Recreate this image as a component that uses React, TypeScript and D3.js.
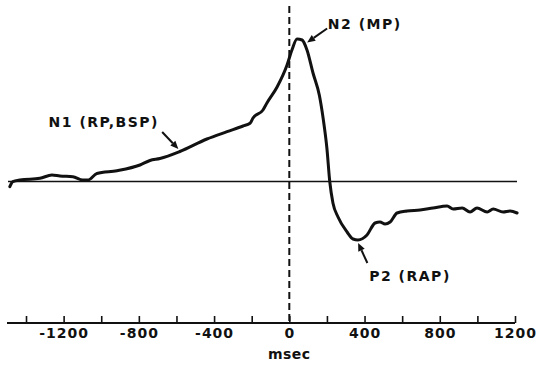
import { useEffect, useRef } from "react"
import * as d3 from "d3"

// averaged movement-related potential, time relative to movement onset
const timeMs = [
  -1486, -1470, -1432, -1326, -1262, -1220, -1151, -1098, -1071, -1023, -916, -794, -741, -688, -582,
  -438, -331, -246, -209, -193, -140, -119, -65, -12, 14, 41, 68, 94, 126, 160, 180, 200, 215,
  232, 259, 307, 339, 365, 413, 456, 482, 509, 536, 573, 626, 695, 764, 839, 871, 919, 961, 998,
  1052, 1084, 1137, 1174, 1211,
]
const amplitude = [
  -0.52, -0.02, 0.15, 0.32, 0.65, 0.55, 0.48, 0.15, 0.15, 0.8, 1.08, 1.65, 2.1, 2.3, 3.0,
  4.25, 4.98, 5.55, 5.82, 6.35, 7.15, 7.85, 9.45, 11.65, 13.15, 14.25, 14.15, 13.15, 10.85, 8.6, 6.3, 3.3, 0.0,
  -2.15, -3.55, -5.05, -5.75, -5.85, -5.35, -4.15, -4.05, -4.25, -4.05, -3.15, -2.95, -2.85, -2.65, -2.45, -2.75, -2.65, -3.05, -2.65,
  -3.05, -2.75, -3.05, -2.95, -3.15,
]

const tickValues = d3.range(-1400, 1201, 200)
const labelledTicks = [-1200, -800, -400, 0, 400, 800, 1200]

// component labels: text, text anchor point [ms, uV], arrow tail and head [ms, uV]
const componentLabels = ["N1 (RP,BSP)", "N2 (MP)", "P2 (RAP)"]
const labelAt: [number, number][] = [[-1280, 5.5], [205, 15.3], [425, -9.9]]
const arrowFrom: [number, number][] = [[-676, 4.95], [201, 15.3], [415, -8.15]]
const arrowTo: [number, number][] = [[-590, 3.25], [95, 13.9], [366, -6.15]]

const font = "'DejaVu Sans', sans-serif"

export default function App() {
  const svgRef = useRef<SVGSVGElement>(null)

  useEffect(() => {
    if (!svgRef.current) return
    const svg = d3.select(svgRef.current)
    svg.selectAll("*").remove()

    const x = d3.scaleLinear().domain([-1500, 1200]).range([7.2, 515])
    const y = d3.scaleLinear().domain([0, 10]).range([181.5, 81.5])
    const axisY = 323

    // baseline
    svg
      .append("line")
      .attr("x1", 8)
      .attr("x2", 517)
      .attr("y1", y(0))
      .attr("y2", y(0))
      .attr("stroke", "#111")
      .attr("stroke-width", 1.6)

    // movement onset
    svg
      .append("line")
      .attr("x1", x(0))
      .attr("x2", x(0))
      .attr("y1", 6)
      .attr("y2", axisY - 2)
      .attr("stroke", "#111")
      .attr("stroke-width", 2)
      .attr("stroke-dasharray", "7,4")

    // x axis, ticks pointing up
    const axis = svg
      .append("g")
      .attr("transform", `translate(0,${axisY})`)
      .call(
        d3
          .axisBottom(x)
          .tickValues(tickValues)
          .tickSizeInner(-7)
          .tickSizeOuter(0)
          .tickPadding(5)
          .tickFormat((d) => (labelledTicks.includes(d as number) ? String(d) : "")),
      )
    axis.select(".domain").remove()
    axis.append("line").attr("x1", 7).attr("x2", x(1200)).attr("stroke", "#111").attr("stroke-width", 1.8)
    axis.selectAll(".tick line").attr("stroke", "#111").attr("stroke-width", 1.6)
    axis
      .selectAll(".tick text")
      .attr("fill", "#111")
      .style("font-family", font)
      .style("font-weight", "bold")
      .style("font-size", "14px")
      .style("letter-spacing", "1px")

    svg
      .append("text")
      .attr("x", x(0))
      .attr("y", 359)
      .attr("text-anchor", "middle")
      .attr("fill", "#111")
      .style("font-family", font)
      .style("font-weight", "bold")
      .style("font-size", "14px")
      .style("letter-spacing", "0.5px")
      .text("msec")

    // potential trace
    const points = timeMs.map((t, i) => [t, amplitude[i]] as [number, number])
    const line = d3
      .line<[number, number]>()
      .x((d) => x(d[0]))
      .y((d) => y(d[1]))
      .curve(d3.curveMonotoneX)
    svg
      .append("path")
      .attr("d", line(points))
      .attr("fill", "none")
      .attr("stroke", "#111")
      .attr("stroke-width", 3)
      .attr("stroke-linejoin", "round")
      .attr("stroke-linecap", "round")

    // labels with arrows
    componentLabels.forEach((label, i) => {
      svg
        .append("text")
        .attr("x", x(labelAt[i][0]))
        .attr("y", y(labelAt[i][1]))
        .attr("fill", "#111")
        .style("font-family", font)
        .style("font-weight", "bold")
        .style("font-size", "14px")
        .style("letter-spacing", "1.5px")
        .text(label)

      const x1 = x(arrowFrom[i][0])
      const y1 = y(arrowFrom[i][1])
      const x2 = x(arrowTo[i][0])
      const y2 = y(arrowTo[i][1])
      const ang = Math.atan2(y2 - y1, x2 - x1)
      const headLen = 8
      const bx = x2 - headLen * Math.cos(ang)
      const by = y2 - headLen * Math.sin(ang)
      svg
        .append("line")
        .attr("x1", x1)
        .attr("y1", y1)
        .attr("x2", bx)
        .attr("y2", by)
        .attr("stroke", "#111")
        .attr("stroke-width", 2)
      const px = -Math.sin(ang) * 3.5
      const py = Math.cos(ang) * 3.5
      svg
        .append("path")
        .attr("d", `M${x2},${y2}L${bx + px},${by + py}L${bx - px},${by - py}Z`)
        .attr("fill", "#111")
    })
  }, [])

  return (
    <svg
      ref={svgRef}
      width={538}
      height={374}
      style={{ position: "absolute", left: 0, top: 0, background: "#fff" }}
    />
  )
}
